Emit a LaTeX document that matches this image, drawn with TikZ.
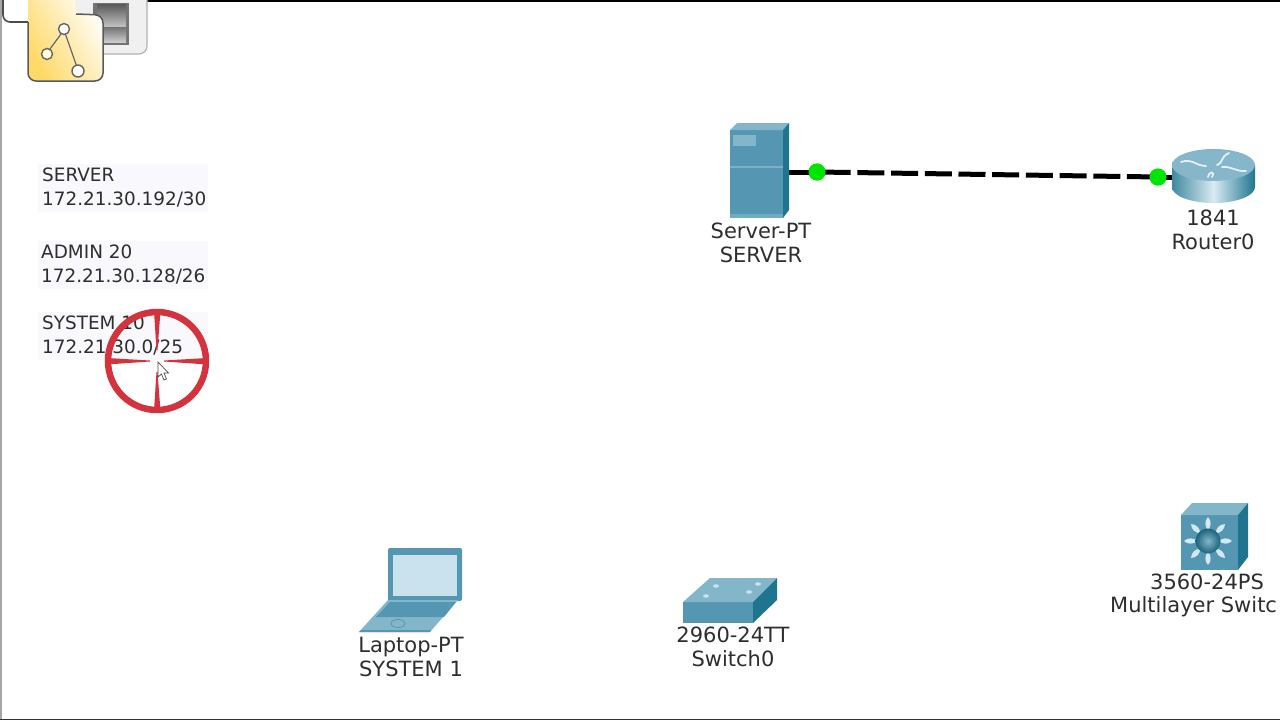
\documentclass[tikz,border=0pt]{standalone}
\usepackage{fontspec}
\setmainfont{DejaVu Sans}
\usetikzlibrary{shapes.geometric}
\definecolor{tealfront}{HTML}{5597B3}
\definecolor{tealtop}{HTML}{84B6CA}
\definecolor{tealside}{HTML}{1F7590}
\definecolor{tealpale}{HTML}{C9E2EE}
\definecolor{txt}{HTML}{2E2E2E}
\definecolor{cross}{HTML}{D2333C}
\definecolor{note}{HTML}{F8F8FD}
\tikzset{
  x=1pt,y=-1pt,
  lab/.style={font=\fontsize{21}{24.5}\selectfont,text=txt,align=center,inner sep=0pt},
  notelab/.style={font=\fontsize{18.4}{24}\selectfont,text=txt,align=left,inner sep=0pt,anchor=north west},
  notebg/.style={fill=note,draw=none},
  front/.style={fill=tealfront,draw=none},
  top/.style={fill=tealtop,draw=none},
  side/.style={fill=tealside,draw=none},
  port/.style={circle,fill=green!90!black,draw=none,minimum size=17pt,inner sep=0pt}
}
\begin{document}
\begin{tikzpicture}
\useasboundingbox (0,0) rectangle (1280,720);
\fill[white] (0,0) rectangle (1280,720);
\begin{scope}
\clip (0,0) rectangle (1280,720);
% window edges
\fill[black] (0,0) rectangle (1280,2);
\fill[gray!70] (0,0) rectangle (2,720);
\fill[black!80] (0,718.5) rectangle (1280,720);
% corner icons
\draw[gray!60,fill=black!6,line width=1.2pt,rounded corners=8pt] (60,-8) rectangle (147,54);
\fill[black!55] (93,3) rectangle (129,45);
\shade[top color=black!65,bottom color=black!25] (97,4) rectangle (126,26);
\shade[top color=black!55,bottom color=black!20] (97,27) rectangle (126,42);
\draw[black!70,fill=white,line width=1.6pt,rounded corners=7pt] (3,-8) -- (3,22) -- (40,22) -- (40,-8);
\shade[left color=white,right color=yellow!50!orange!60,shading angle=300,rounded corners=9pt,draw=none] (28,-12) -- (28,81) -- (103,81) -- (103,15) -- (75,15) -- (75,-12) -- cycle;
\draw[black!65,line width=1.5pt,rounded corners=8pt] (28,22) -- (28,81) -- (103,81) -- (103,15) -- (76,14);
\draw[black!60,line width=1.2pt] (64,30) -- (47,53) (64,30) -- (78,70);
\node[circle,draw=black!60,fill=white,line width=1.4pt,minimum size=11pt,inner sep=0pt] (ga) at (64,29) {};
\node[circle,draw=black!60,fill=yellow!15,line width=1.4pt,minimum size=11pt,inner sep=0pt] (gb) at (47,54) {};
\node[circle,draw=black!60,fill=white,line width=1.4pt,minimum size=12pt,inner sep=0pt] (gc) at (78,71) {};
% notes
\fill[notebg] (38,164) rectangle (208,212);
\fill[notebg] (38,241) rectangle (208,289);
\fill[notebg] (38,312) rectangle (208,360);
\node[notelab] (n1) at (42,168) {SERVER\\172.21.30.192/30};
\node[notelab] (n2) at (41,245) {ADMIN 20\\172.21.30.128/26};
\node[notelab] (n3) at (42,316) {SYSTEM 10\\172.21.30.0/25};
% crosshair
\draw[cross,line width=6.5pt] (157,361) circle (49);
\fill[cross] (107,358) -- (150,360.5) -- (150,361.5) -- (107,364.5) -- cycle;
\fill[cross] (207,358) -- (164,360.5) -- (164,361.5) -- (207,364.5) -- cycle;
\fill[cross] (154,311) -- (156.5,350) -- (157.5,350) -- (160.5,311) -- cycle;
\fill[cross] (154,411) -- (156.5,372) -- (157.5,372) -- (160.5,411) -- cycle;
\draw[black!70,fill=white,line width=.7pt] (158,362) -- (158,377) -- (161.5,374) -- (164,380) -- (166.5,379) -- (164,373) -- (168.5,373) -- cycle;
% server
\node[front,minimum width=53pt,minimum height=88pt,inner sep=0pt] (srv) at (756.5,174) {};
% link
\node[port] (p1) at (817,172) {};
\node[port] (p2) at (1158,177) {};
\node[inner sep=0pt,minimum size=0pt] (rtr) at (1180,177) {};
\draw[black,line width=5pt] (srv.east |- p1.center) -- (p1.center);
\draw[black,line width=5pt,dash pattern=on 27pt off 6.7pt,dash phase=27pt] (p1.center) -- (p2.center);
\draw[black,line width=5pt] (p2.center) -- (rtr);
\node[port] at (817,172) {};
\node[port] at (1158,177) {};
% server faces over the link
\fill[top] (730,130) -- (737,123) -- (789,123) -- (783,130) -- cycle;
\fill[side] (783,130) -- (789,123) -- (789,210) -- (783,218) -- cycle;
\fill[tealtop] (733,135) rectangle (756,146);
\fill[tealtop!80!tealfront] (730,166) rectangle (783,168);
\fill[tealtop!60!tealfront] (730,214) rectangle (783,218);
\node[lab] (srvl) at (761,243) {Server-PT\\SERVER};
% router
\shade[left color=tealside!85,right color=tealside,middle color=tealpale!70!white,draw=none] (1172,165) -- (1172,187) arc[start angle=180,end angle=360,x radius=41.5,y radius=-16] -- (1255,165) -- cycle;
\shade[top color=tealtop,bottom color=tealfront!70!white,draw=none] (1213.5,165) ellipse (41.5 and 16);
\draw[white!85!tealfront,line width=1.8pt,line cap=round] (1181,162) .. controls (1192,158) and (1196,166) .. (1206,166)
 (1229,153) .. controls (1220,157) and (1224,162) .. (1217,165)
 (1212,177) .. controls (1216,170) and (1208,172) .. (1208,177)
 (1222,167) .. controls (1232,166) and (1236,172) .. (1246,171);
\node[lab] (rtrl) at (1213,230) {1841\\Router0};
% laptop
\fill[tealfront,rounded corners=2pt] (388,548) rectangle (462,601);
\node[fill=tealpale,inner sep=0pt,minimum width=64pt,minimum height=41pt] (lap) at (425,575.5) {};
\fill[tealtop] (388,600) -- (458,600) -- (430,632) -- (359,632) -- cycle;
\fill[tealfront] (390,602) -- (456,602) -- (444,617) -- (376,617) -- cycle;
\fill[tealfront] (359,632) -- (430,632) -- (431,630) -- (361,630) -- cycle;
\draw[tealfront,line width=.8pt] (398,623.5) ellipse (7 and 4);
\node[lab] (lapl) at (411,657) {Laptop-PT\\SYSTEM 1};
% switch
\node[front,minimum width=70pt,minimum height=21pt,inner sep=0pt] (sw) at (718,612.5) {};
\fill[tealtop] (683,602) -- (710,578) -- (777,578) -- (753,602) -- cycle;
\fill[side] (753,602) -- (777,578) -- (777,600) -- (753,623) -- cycle;
\foreach \px/\py in {716/586,758/584,706/596,749/592}{\fill[tealpale] (\px,\py) ellipse (3 and 1.8);}
\node[lab] (swl) at (733,647) {2960-24TT\\Switch0};
% multilayer
\node[front,minimum width=57pt,minimum height=55pt,inner sep=0pt] (ml) at (1209.5,542.5) {};
\fill[top] (1181,515) -- (1192,503) -- (1248,503) -- (1238,515) -- cycle;
\fill[side] (1238,515) -- (1248,503) -- (1248,557) -- (1238,570) -- cycle;
\foreach \a in {0,45,...,315}{\fill[tealpale!80!white,rotate around={\a:(1208,541)}] (1232,541) .. controls (1228,537) and (1222,538) .. (1219,541) .. controls (1222,544) and (1228,545) .. (1232,541) -- cycle;}
\shade[inner color=tealtop,outer color=tealside!85!black] (1208,541) circle (12.5);
\node[lab] (mll) at (1207,582) {3560-24PS};
\node[lab,anchor=west] (mll2) at (1110,607) {Multilayer Switc};
\end{scope}
\end{tikzpicture}
\end{document}
